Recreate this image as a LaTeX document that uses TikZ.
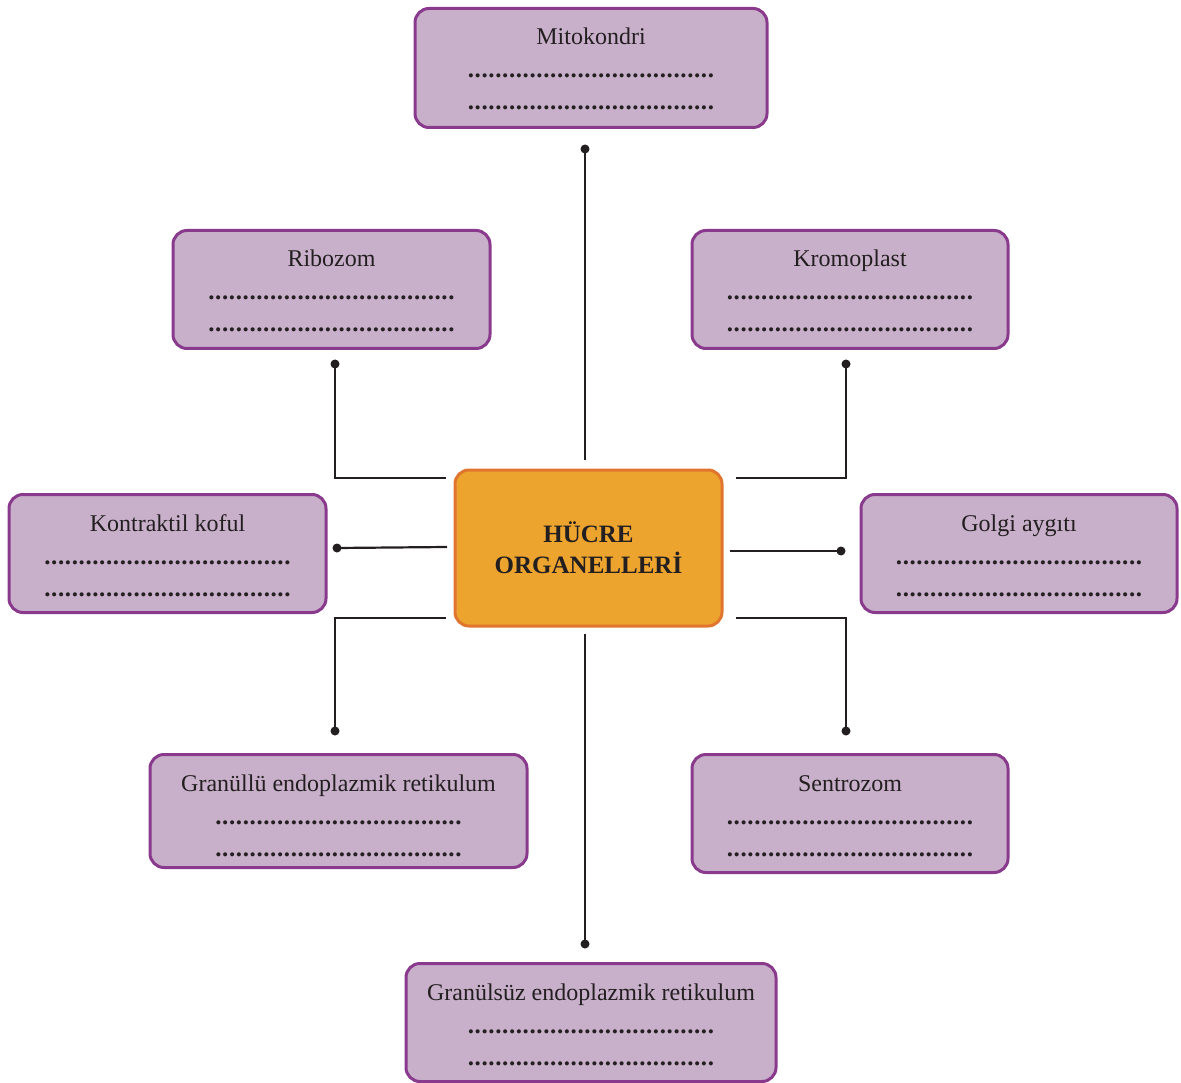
\documentclass[tikz,border=0pt]{standalone}
\usepackage{fontspec}
\setmainfont{Liberation Serif}
\definecolor{boxfill}{HTML}{C8B0CA}
\definecolor{boxline}{HTML}{8A3A8C}
\definecolor{cfill}{HTML}{ECA42E}
\definecolor{cline}{HTML}{E2752E}
\definecolor{ink}{HTML}{231F20}
\newcommand\leaderdots{\hbox to 247pt{\xleaders\hbox to 6.68pt{\hss.\hss}\hfill}}
\tikzset{
  organ/.style={draw=boxline, fill=boxfill, line width=3pt, rounded corners=14pt, inner sep=0pt},
  titletext/.style={font=\fontsize{24}{28}\selectfont, text=ink, inner sep=0pt, anchor=base},
  dotrow/.style={font=\fontsize{25}{28}\selectfont\bfseries, text=ink, inner sep=0pt, anchor=base},
  conn/.style={draw=ink, line width=2.2pt},
  tipdot/.style={circle, fill=ink, inner sep=0pt, minimum size=9pt},
}
% name, cx, cy(top), width, height, title
\newcommand\organbox[6]{%
  \node[organ, minimum width=#4pt, minimum height=#5pt, anchor=north] (#1) at (#2,#3) {};
  \node[titletext] (#1-t) at (#2,#3+38) {#6};
  \node[dotrow] (#1-d1) at (#2,#3+71) {\leaderdots};
  \node[dotrow] (#1-d2) at (#2,#3+103) {\leaderdots};
}
\begin{document}
\begin{tikzpicture}[x=1pt,y=-1pt]
\useasboundingbox (0,0) rectangle (1181,1083);

\organbox{mito}{591}{7}{352}{119}{Mitokondri}
\organbox{ribo}{331.5}{229}{317}{118}{Ribozom}
\organbox{kromo}{850}{229}{316}{118}{Kromoplast}
\organbox{koful}{167.5}{493}{317}{118}{Kontraktil koful}
\organbox{golgi}{1019}{493}{316}{118}{Golgi aygıtı}
\organbox{ger}{338.5}{753}{377}{113}{Granüllü endoplazmik retikulum}
\organbox{sentro}{850}{753}{316}{118}{Sentrozom}
\organbox{ser}{591}{962}{370}{118}{Granülsüz endoplazmik retikulum}

\node[draw=cline, fill=cfill, line width=3pt, rounded corners=14pt,
      minimum width=267pt, minimum height=156pt, inner sep=0pt] (center) at (588.5,548) {};
\node[font=\fontsize{25}{28}\selectfont\bfseries, text=ink, inner sep=0pt, anchor=base] (c1) at (588.5,542) {HÜCRE};
\node[font=\fontsize{25}{28}\selectfont\bfseries, text=ink, inner sep=0pt, anchor=base] (c2) at (588.5,573) {ORGANELLERİ};

% connector end points
\coordinate (pTop) at (585,460);
\node[tipdot] (dTop) at (585,149) {};
\coordinate (pRibo) at (446,478);
\coordinate (kRibo) at (335,478);
\node[tipdot] (dRibo) at (335,364) {};
\coordinate (pKromo) at (736,478);
\coordinate (kKromo) at (846,478);
\node[tipdot] (dKromo) at (846,364) {};
\coordinate (pKoful) at (447,547);
\node[tipdot] (dKoful) at (337,548) {};
\coordinate (pGolgi) at (730,551);
\node[tipdot] (dGolgi) at (841,551) {};
\coordinate (pGer) at (446,618);
\coordinate (kGer) at (335,618);
\node[tipdot] (dGer) at (335,731) {};
\coordinate (pSentro) at (736,618);
\coordinate (kSentro) at (846,618);
\node[tipdot] (dSentro) at (846,731) {};
\coordinate (pBot) at (585,634);
\node[tipdot] (dBot) at (585,944) {};

\draw[conn] (pTop) -- (dTop.center);
\draw[conn] (pRibo) -- (kRibo) -- (dRibo.center);
\draw[conn] (pKromo) -- (kKromo) -- (dKromo.center);
\draw[conn] (pKoful) -- (dKoful.center);
\draw[conn] (pGolgi) -- (dGolgi.center);
\draw[conn] (pGer) -- (kGer) -- (dGer.center);
\draw[conn] (pSentro) -- (kSentro) -- (dSentro.center);
\draw[conn] (pBot) -- (dBot.center);
\end{tikzpicture}
\end{document}
